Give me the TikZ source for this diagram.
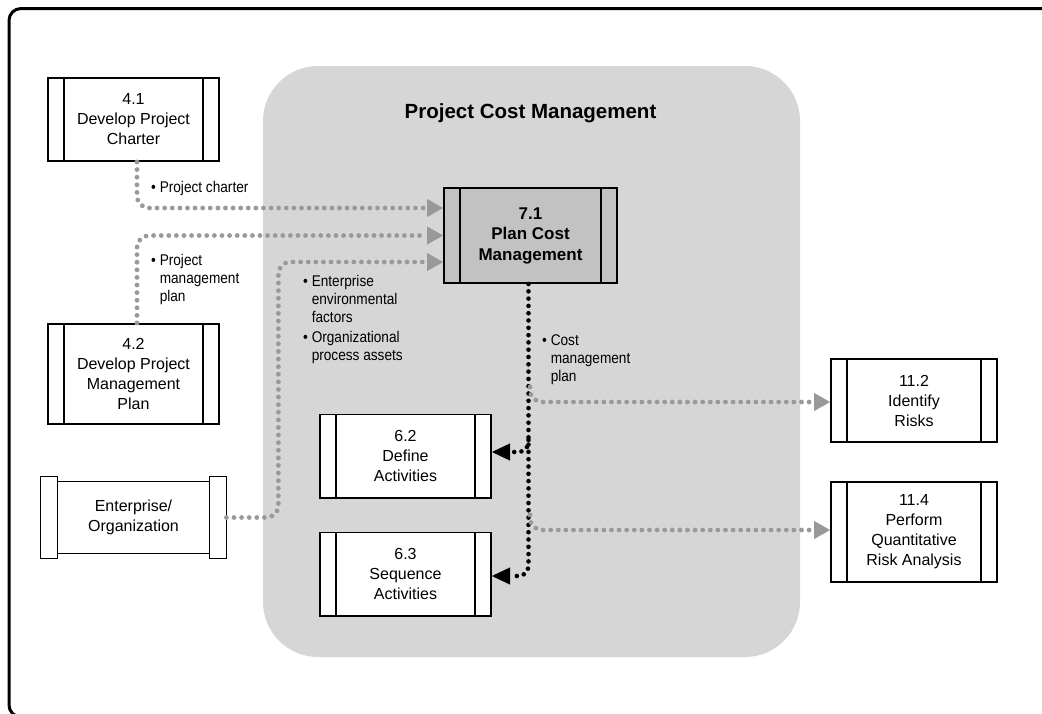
\documentclass[tikz,border=0pt]{standalone}
\usepackage{fontspec}
\setmainfont{Liberation Sans}
\newfontfamily\condfont[FakeStretch=0.88]{Liberation Sans}
\usetikzlibrary{arrows.meta}
\definecolor{regiongray}{HTML}{D6D6D6}
\definecolor{procgray}{HTML}{C2C2C2}
\definecolor{dotgray}{HTML}{999999}
\begin{document}
\begin{tikzpicture}[x=1pt,y=-1pt,
  boxline/.style={line width=1.6pt},
  proc/.style={draw, boxline, fill=white, align=center, inner sep=0pt,
    font=\fontsize{16}{20}\selectfont, minimum width=171.4pt, minimum height=83.4pt,
    path picture={\draw[boxline]
      ([xshift=16pt]path picture bounding box.north west) -- ([xshift=16pt]path picture bounding box.south west)
      ([xshift=-16pt]path picture bounding box.north east) -- ([xshift=-16pt]path picture bounding box.south east);}},
  keyproc/.style={proc, fill=procgray, font=\bfseries\fontsize{17}{20.5}\selectfont,
    minimum width=173.4pt, minimum height=95.4pt},
  gconn/.style={draw=dotgray, line width=4.8pt, line cap=round, dash pattern=on 0pt off 7.6pt,
    rounded corners=12pt, -{Triangle[length=16pt,width=18pt,line width=0.4pt,fill=dotgray]}},
  bconn/.style={draw=black, line width=4.6pt, line cap=round, dash pattern=on 0pt off 7.3pt,
    rounded corners=10pt, -{Triangle[length=18pt,width=17pt,line width=0.4pt,fill=black]}},
  lbl/.style={font=\condfont\fontsize{15.5}{18}\selectfont, align=left, inner sep=0pt, anchor=west}
]
\clip (0,0) rectangle (1042,713);
% outer frame
\draw[line width=3pt, rounded corners=12pt] (9,8.5) rectangle (1070,717);
% grey region
\fill[regiongray, rounded corners=55pt] (263,66) rectangle (800,657);
\node[font=\bfseries\fontsize{20.5}{24}\selectfont] (title) at (530.5,113) {Project Cost Management};

% process boxes
\node[proc] (a41) at (133.5,119.5) {4.1\\Develop Project\\Charter};
\node[proc, minimum height=100.4pt] (a42) at (133.5,374) {4.2\\Develop Project\\Management\\Plan};
\node[keyproc] (a71) at (530.5,235.5) {7.1\\Plan Cost\\Management};
\node[proc] (a62) at (405.5,456) {6.2\\Define\\Activities};
\node[proc] (a63) at (405.5,574) {6.3\\Sequence\\Activities};
\node[proc, minimum width=166.4pt] (a112) at (914,400.5) {11.2\\Identify\\Risks};
\node[proc, minimum width=166.4pt, minimum height=100.4pt] (a114) at (914,532) {11.4\\Perform\\Quantitative\\Risk Analysis};

% enterprise / organization
\node[align=center, inner sep=0pt, font=\fontsize{16}{20}\selectfont,
  minimum width=185.4pt, minimum height=81.4pt] (ent) at (133.5,517.5) {Enterprise/\\Organization};
\draw[boxline] (ent.north west) rectangle ([xshift=17pt]ent.south west)
  ([xshift=-17pt]ent.north east) rectangle (ent.south east)
  ([xshift=17pt,yshift=-5pt]ent.north west) -- ([xshift=-17pt,yshift=-5pt]ent.north east)
  ([xshift=17pt,yshift=5pt]ent.south west) -- ([xshift=-17pt,yshift=5pt]ent.south east);

% inputs
\draw[gconn] ([xshift=3.5pt]a41.south) |- ([yshift=27.5pt]a71.west);
\draw[gconn] ([xshift=3.5pt]a42.north) |- (a71.west);
\draw[gconn] (ent.east) -- ++(52,0) |- ([yshift=-26.5pt]a71.west);

% outputs
\coordinate (j112) at (530,387);
\coordinate (j62) at (528.5,440);
\coordinate (j114) at (530,515);
\draw[bconn] ([xshift=-2pt]a71.south) |- ([yshift=-2pt]a63.east);
\draw[bconn] (j62) |- ([yshift=4pt]a62.east);
\draw[gconn] (j112) |- ([yshift=-1.5pt]a112.west);
\draw[gconn] (j114) |- ([yshift=2pt]a114.west);

% labels
\node[lbl] (l1) at (151,188) {• Project charter};
\node[lbl] (l2) at (151,279.5) {• Project\\\phantom{• }management\\\phantom{• }plan};
\node[lbl] (l3) at (303,299) {• Enterprise\\\phantom{• }environmental\\\phantom{• }factors};
\node[lbl] (l4) at (303,347) {• Organizational\\\phantom{• }process assets};
\node[lbl] (l5) at (542,360) {• Cost\\\phantom{• }management\\\phantom{• }plan};
\end{tikzpicture}
\end{document}
